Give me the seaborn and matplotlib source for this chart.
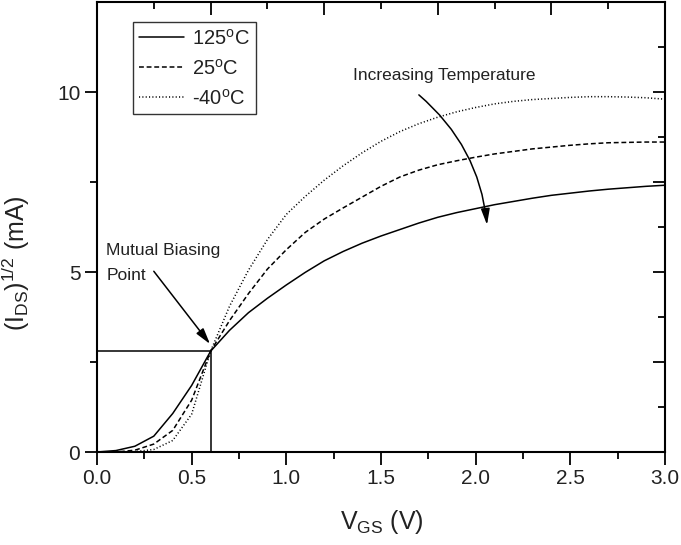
import numpy as np
import pandas as pd
import matplotlib
matplotlib.use("Agg")
import matplotlib.pyplot as plt
import seaborn as sns

# ---- data ----
vgs = [0.0, 0.1, 0.2, 0.3, 0.4, 0.5, 0.6, 0.7, 0.8, 0.9, 1.0, 1.1, 1.2, 1.3, 1.4,
       1.5, 1.6, 1.7, 1.8, 1.9, 2.0, 2.1, 2.2, 2.3, 2.4, 2.5, 2.6, 2.7, 2.8, 2.9, 3.0]
i_125 = [0.0, 0.04, 0.16, 0.44, 1.07, 1.85, 2.8, 3.38, 3.87, 4.27, 4.64, 4.99, 5.31,
         5.57, 5.80, 6.00, 6.18, 6.36, 6.52, 6.65, 6.76, 6.87, 6.96, 7.05, 7.13,
         7.19, 7.25, 7.30, 7.34, 7.38, 7.41]
i_25 = [0.0, 0.0, 0.05, 0.22, 0.60, 1.44, 2.8, 3.65, 4.40, 5.08, 5.62, 6.10, 6.47,
        6.78, 7.08, 7.38, 7.64, 7.83, 7.98, 8.09, 8.19, 8.28, 8.35, 8.42, 8.47,
        8.52, 8.56, 8.59, 8.60, 8.61, 8.61]
i_m40 = [0.0, 0.0, 0.01, 0.07, 0.32, 1.05, 2.8, 4.05, 5.05, 5.90, 6.60, 7.10, 7.55,
         7.95, 8.31, 8.63, 8.90, 9.12, 9.30, 9.45, 9.57, 9.67, 9.74, 9.79, 9.82,
         9.85, 9.87, 9.87, 9.86, 9.84, 9.80]
labels = ["125$^{\\rm o}$C", "25$^{\\rm o}$C", "-40$^{\\rm o}$C"]
bias_v, bias_i = 0.6, 2.8
top_major = [0.0, 0.6, 1.2, 1.8, 2.4, 3.0]
top_minor = [0.3, 0.9, 1.5, 2.1, 2.7]
right_major = [0, 2.5, 5, 7.5, 10, 12.5]
right_minor = [1.25, 3.75, 6.25, 8.75, 11.25]

sns.set_theme(style="white")
plt.rcParams["font.family"] = ["Liberation Sans", "DejaVu Sans"]
plt.rcParams["mathtext.fontset"] = "custom"
plt.rcParams["mathtext.rm"] = "Liberation Sans"
plt.rcParams["mathtext.it"] = "Liberation Sans"
plt.rcParams["lines.scale_dashes"] = False

fig = plt.figure(figsize=(6.81, 5.45), dpi=100)
L, B, W, H = 97/681, 1-452/545, (665-97)/681, 450/545
rect = [L, B, W, H]
ax = fig.add_axes(rect)

styles = ["-", (0, (3.5, 2.0)), (0, (0.8, 1.6))]
for ys, lab, ls in zip([i_125, i_25, i_m40], labels, styles):
    df = pd.DataFrame({"V": vgs, "I": ys})
    sns.lineplot(data=df, x="V", y="I", ax=ax, color="black", lw=1.1,
                 linestyle=ls, label=lab)

# mutual biasing point guides
ax.plot([bias_v, bias_v], [0, bias_i], color="black", lw=1.1)
ax.plot([0, bias_v], [bias_i, bias_i], color="black", lw=1.1)

ax.set_xlim(0, 3.0)
ax.set_ylim(0, 12.5)
ax.set_xticks([0.0, 0.5, 1.0, 1.5, 2.0, 2.5, 3.0])
ax.set_xticklabels(["0.0", "0.5", "1.0", "1.5", "2.0", "2.5", "3.0"])
ax.set_xticks(np.arange(0.25, 3.0, 0.5), minor=True)
ax.set_yticks([0, 5, 10])
ax.set_yticks([2.5, 7.5], minor=True)
ax.tick_params(axis="both", which="major", direction="out", length=9, width=1.3,
               labelsize=15, color="black", labelcolor="#222222", pad=3,
               bottom=True, left=True, top=False, right=False)
ax.tick_params(axis="both", which="minor", direction="out", length=5, width=1.3,
               color="black", bottom=True, left=True, top=False, right=False)
for s in ax.spines.values():
    s.set_color("black")
    s.set_linewidth(1.5)

ax.set_xlabel("V$_{\\rm GS}$ (V)", fontsize=18, color="#222222")
ax.set_ylabel("(I$_{\\rm DS}$)$^{\\rm 1/2}$ (mA)", fontsize=18, color="#222222")
ax.xaxis.set_label_coords(0.502, -0.125)
ax.yaxis.set_label_coords(-0.115, 0.42)

leg = ax.legend(loc="upper left", bbox_to_anchor=(0.063, 0.955), fontsize=14.5,
                frameon=True, fancybox=False, shadow=False, handlelength=2.25,
                handletextpad=0.4, borderpad=0.3, labelspacing=0.5,
                borderaxespad=0)
leg.get_frame().set_edgecolor("black")
leg.get_frame().set_linewidth(1.0)
for t in leg.get_texts():
    t.set_color("#222222")

ax.annotate("", xy=(2.06, 6.31), xytext=(1.70, 9.92),
            arrowprops=dict(arrowstyle="-|>,head_length=0.8,head_width=0.22",
                            color="black", lw=1.1,
                            connectionstyle="arc3,rad=-0.2",
                            shrinkA=0, shrinkB=0))
ax.text(1.35, 10.47, "Increasing Temperature", fontsize=12.5, color="#222222",
        ha="left", va="center")

ax.annotate("", xy=(0.597, 3.0), xytext=(0.30, 5.02),
            arrowprops=dict(arrowstyle="-|>,head_length=0.8,head_width=0.22",
                            color="black", lw=1.1, shrinkA=0, shrinkB=0))
ax.text(0.05, 5.6, "Mutual Biasing", fontsize=12.5, color="#222222",
        ha="left", va="center")
ax.text(0.05, 4.9, "Point", fontsize=12.5, color="#222222",
        ha="left", va="center")

# top ticks: a flat strip axes sitting on the top edge, bottom ticks pointing down
axt = fig.add_axes([L, B + H, W, 1e-4], label="topstrip", frameon=False)
axt.patch.set_visible(False)
axt.set_xlim(0, 3.0)
axt.yaxis.set_visible(False)
axt.set_xticks(top_major)
axt.set_xticks(top_minor, minor=True)
axt.tick_params(axis="x", which="major", direction="out", length=9, width=1.3,
                bottom=True, top=False, labelbottom=False, labeltop=False,
                color="black")
axt.tick_params(axis="x", which="minor", direction="out", length=5, width=1.3,
                bottom=True, top=False, color="black")

# right ticks (inward) on an overlay axes
axr = fig.add_axes(rect, label="overlay", frameon=False)
axr.patch.set_visible(False)
axr.set_ylim(0, 12.5)
axr.xaxis.set_visible(False)
axr.set_yticks(right_major)
axr.set_yticks(right_minor, minor=True)
axr.tick_params(axis="y", which="major", direction="in", length=9, width=1.3, right=True,
                left=False, labelright=False, labelleft=False, color="black")
axr.tick_params(axis="y", which="minor", direction="in", length=5, width=1.3, right=True,
                left=False, color="black")

fig.savefig("out.png", dpi=100)
